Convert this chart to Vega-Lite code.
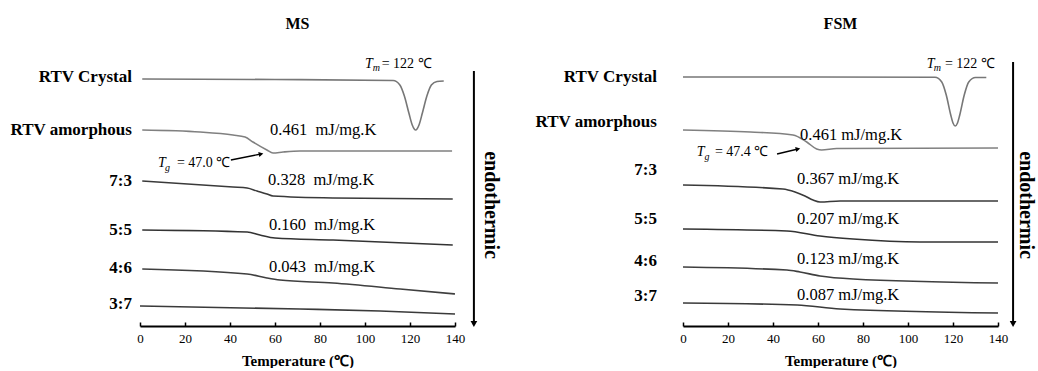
{
  "$schema": "https://vega.github.io/schema/vega-lite/v6.json",
  "padding": {"left": 10, "top": 16, "right": 0, "bottom": 0},
  "config": {"view": {"stroke": null}, "font": "Liberation Serif", "text": {"color": "black"}},
  "data": {"values": [
    {"kind":"curve","panel":"MS","s":"RTV Crystal","T":1,"hf":24.7},
    {"kind":"curve","panel":"MS","s":"RTV Crystal","T":60,"hf":24.65},
    {"kind":"curve","panel":"MS","s":"RTV Crystal","T":112.5,"hf":24.55},
    {"kind":"curve","panel":"MS","s":"RTV Crystal","T":115.5,"hf":24.1},
    {"kind":"curve","panel":"MS","s":"RTV Crystal","T":117.5,"hf":23.0},
    {"kind":"curve","panel":"MS","s":"RTV Crystal","T":119.5,"hf":21.3},
    {"kind":"curve","panel":"MS","s":"RTV Crystal","T":121,"hf":20.1},
    {"kind":"curve","panel":"MS","s":"RTV Crystal","T":122.5,"hf":19.6},
    {"kind":"curve","panel":"MS","s":"RTV Crystal","T":124,"hf":20.1},
    {"kind":"curve","panel":"MS","s":"RTV Crystal","T":125.5,"hf":21.3},
    {"kind":"curve","panel":"MS","s":"RTV Crystal","T":127.5,"hf":23.0},
    {"kind":"curve","panel":"MS","s":"RTV Crystal","T":129.5,"hf":24.1},
    {"kind":"curve","panel":"MS","s":"RTV Crystal","T":132,"hf":24.45},
    {"kind":"curve","panel":"MS","s":"RTV Crystal","T":135,"hf":24.5},
    {"kind":"curve","panel":"MS","s":"RTV amorphous","T":1,"hf":19.6},
    {"kind":"curve","panel":"MS","s":"RTV amorphous","T":26.7,"hf":19.4},
    {"kind":"curve","panel":"MS","s":"RTV amorphous","T":41.3,"hf":19.1},
    {"kind":"curve","panel":"MS","s":"RTV amorphous","T":46.7,"hf":18.9},
    {"kind":"curve","panel":"MS","s":"RTV amorphous","T":50.2,"hf":18.4},
    {"kind":"curve","panel":"MS","s":"RTV amorphous","T":56.4,"hf":17.6},
    {"kind":"curve","panel":"MS","s":"RTV amorphous","T":59.1,"hf":17.3},
    {"kind":"curve","panel":"MS","s":"RTV amorphous","T":63.6,"hf":17.4},
    {"kind":"curve","panel":"MS","s":"RTV amorphous","T":71.1,"hf":17.5},
    {"kind":"curve","panel":"MS","s":"RTV amorphous","T":138.7,"hf":17.5},
    {"kind":"curve","panel":"MS","s":"7:3","T":1,"hf":14.5},
    {"kind":"curve","panel":"MS","s":"7:3","T":41.3,"hf":13.9},
    {"kind":"curve","panel":"MS","s":"7:3","T":47.6,"hf":13.8},
    {"kind":"curve","panel":"MS","s":"7:3","T":52,"hf":13.5},
    {"kind":"curve","panel":"MS","s":"7:3","T":56.4,"hf":13.2},
    {"kind":"curve","panel":"MS","s":"7:3","T":59.1,"hf":13.0},
    {"kind":"curve","panel":"MS","s":"7:3","T":85.8,"hf":12.8},
    {"kind":"curve","panel":"MS","s":"7:3","T":139,"hf":12.7},
    {"kind":"curve","panel":"MS","s":"5:5","T":1,"hf":9.6},
    {"kind":"curve","panel":"MS","s":"5:5","T":47.6,"hf":9.4},
    {"kind":"curve","panel":"MS","s":"5:5","T":53.3,"hf":9.1},
    {"kind":"curve","panel":"MS","s":"5:5","T":60,"hf":8.8},
    {"kind":"curve","panel":"MS","s":"5:5","T":85.8,"hf":8.6},
    {"kind":"curve","panel":"MS","s":"5:5","T":139,"hf":8.1},
    {"kind":"curve","panel":"MS","s":"4:6","T":1,"hf":5.7},
    {"kind":"curve","panel":"MS","s":"4:6","T":47.6,"hf":5.2},
    {"kind":"curve","panel":"MS","s":"4:6","T":56.4,"hf":4.8},
    {"kind":"curve","panel":"MS","s":"4:6","T":62.2,"hf":4.6},
    {"kind":"curve","panel":"MS","s":"4:6","T":85.8,"hf":4.3},
    {"kind":"curve","panel":"MS","s":"4:6","T":115.6,"hf":3.7},
    {"kind":"curve","panel":"MS","s":"4:6","T":140,"hf":3.2},
    {"kind":"curve","panel":"MS","s":"3:7","T":0,"hf":2.0},
    {"kind":"curve","panel":"MS","s":"3:7","T":71,"hf":1.7},
    {"kind":"curve","panel":"MS","s":"3:7","T":106.7,"hf":1.5},
    {"kind":"curve","panel":"MS","s":"3:7","T":140,"hf":1.2},

    {"kind":"curve","panel":"FSM","s":"RTV Crystal","T":0,"hf":24.9},
    {"kind":"curve","panel":"FSM","s":"RTV Crystal","T":60,"hf":24.9},
    {"kind":"curve","panel":"FSM","s":"RTV Crystal","T":112,"hf":24.87},
    {"kind":"curve","panel":"FSM","s":"RTV Crystal","T":115,"hf":24.4},
    {"kind":"curve","panel":"FSM","s":"RTV Crystal","T":117,"hf":23.1},
    {"kind":"curve","panel":"FSM","s":"RTV Crystal","T":119,"hf":21.1},
    {"kind":"curve","panel":"FSM","s":"RTV Crystal","T":120,"hf":20.3},
    {"kind":"curve","panel":"FSM","s":"RTV Crystal","T":121,"hf":20.0},
    {"kind":"curve","panel":"FSM","s":"RTV Crystal","T":122,"hf":20.3},
    {"kind":"curve","panel":"FSM","s":"RTV Crystal","T":123,"hf":21.1},
    {"kind":"curve","panel":"FSM","s":"RTV Crystal","T":125,"hf":23.1},
    {"kind":"curve","panel":"FSM","s":"RTV Crystal","T":127,"hf":24.4},
    {"kind":"curve","panel":"FSM","s":"RTV Crystal","T":130,"hf":24.85},
    {"kind":"curve","panel":"FSM","s":"RTV Crystal","T":134.8,"hf":24.85},
    {"kind":"curve","panel":"FSM","s":"RTV amorphous","T":0,"hf":19.6},
    {"kind":"curve","panel":"FSM","s":"RTV amorphous","T":30,"hf":19.4},
    {"kind":"curve","panel":"FSM","s":"RTV amorphous","T":48.9,"hf":19.1},
    {"kind":"curve","panel":"FSM","s":"RTV amorphous","T":55,"hf":18.4},
    {"kind":"curve","panel":"FSM","s":"RTV amorphous","T":59.4,"hf":17.7},
    {"kind":"curve","panel":"FSM","s":"RTV amorphous","T":61.6,"hf":17.6},
    {"kind":"curve","panel":"FSM","s":"RTV amorphous","T":68.3,"hf":17.75},
    {"kind":"curve","panel":"FSM","s":"RTV amorphous","T":140,"hf":17.8},
    {"kind":"curve","panel":"FSM","s":"7:3","T":0,"hf":14.1},
    {"kind":"curve","panel":"FSM","s":"7:3","T":44.4,"hf":13.7},
    {"kind":"curve","panel":"FSM","s":"7:3","T":49.8,"hf":13.4},
    {"kind":"curve","panel":"FSM","s":"7:3","T":54.2,"hf":13.0},
    {"kind":"curve","panel":"FSM","s":"7:3","T":57.8,"hf":12.6},
    {"kind":"curve","panel":"FSM","s":"7:3","T":60.9,"hf":12.4},
    {"kind":"curve","panel":"FSM","s":"7:3","T":69.8,"hf":12.5},
    {"kind":"curve","panel":"FSM","s":"7:3","T":140,"hf":12.5},
    {"kind":"curve","panel":"FSM","s":"5:5","T":0,"hf":9.7},
    {"kind":"curve","panel":"FSM","s":"5:5","T":46.2,"hf":9.5},
    {"kind":"curve","panel":"FSM","s":"5:5","T":60.9,"hf":9.0},
    {"kind":"curve","panel":"FSM","s":"5:5","T":75.6,"hf":8.7},
    {"kind":"curve","panel":"FSM","s":"5:5","T":105.3,"hf":8.4},
    {"kind":"curve","panel":"FSM","s":"5:5","T":140,"hf":8.4},
    {"kind":"curve","panel":"FSM","s":"4:6","T":0,"hf":5.9},
    {"kind":"curve","panel":"FSM","s":"4:6","T":46.2,"hf":5.6},
    {"kind":"curve","panel":"FSM","s":"4:6","T":52,"hf":5.4},
    {"kind":"curve","panel":"FSM","s":"4:6","T":60.9,"hf":5.0},
    {"kind":"curve","panel":"FSM","s":"4:6","T":75.6,"hf":4.7},
    {"kind":"curve","panel":"FSM","s":"4:6","T":140,"hf":4.3},
    {"kind":"curve","panel":"FSM","s":"3:7","T":0,"hf":2.3},
    {"kind":"curve","panel":"FSM","s":"3:7","T":50.7,"hf":2.1},
    {"kind":"curve","panel":"FSM","s":"3:7","T":69.8,"hf":1.7},
    {"kind":"curve","panel":"FSM","s":"3:7","T":140,"hf":1.3},

    {"kind":"label","panel":"MS","txt":"RTV Crystal","T":-3.6,"hf":24.9},
    {"kind":"label","panel":"MS","txt":"RTV amorphous","T":-3.6,"hf":19.6},
    {"kind":"label","panel":"MS","txt":"7:3","T":-3.6,"hf":14.5},
    {"kind":"label","panel":"MS","txt":"5:5","T":-3.6,"hf":9.6},
    {"kind":"label","panel":"MS","txt":"4:6","T":-3.6,"hf":5.8},
    {"kind":"label","panel":"MS","txt":"3:7","T":-3.6,"hf":2.2},
    {"kind":"label","panel":"FSM","txt":"RTV Crystal","T":-11.6,"hf":24.9},
    {"kind":"label","panel":"FSM","txt":"RTV amorphous","T":-11.6,"hf":20.4},
    {"kind":"label","panel":"FSM","txt":"7:3","T":-11.6,"hf":15.6},
    {"kind":"label","panel":"FSM","txt":"5:5","T":-11.6,"hf":10.7},
    {"kind":"label","panel":"FSM","txt":"4:6","T":-11.6,"hf":6.5},
    {"kind":"label","panel":"FSM","txt":"3:7","T":-11.6,"hf":3.0},

    {"kind":"cp","panel":"MS","txt":"0.461\u00a0 mJ/mg.K","T":57.8,"hf":19.6},
    {"kind":"cp","panel":"MS","txt":"0.328\u00a0 mJ/mg.K","T":56.9,"hf":14.6},
    {"kind":"cp","panel":"MS","txt":"0.160\u00a0 mJ/mg.K","T":57.3,"hf":10.1},
    {"kind":"cp","panel":"MS","txt":"0.043\u00a0 mJ/mg.K","T":57.3,"hf":5.9},
    {"kind":"cp","panel":"FSM","txt":"0.461 mJ/mg.K","T":52,"hf":19.1},
    {"kind":"cp","panel":"FSM","txt":"0.367 mJ/mg.K","T":50.7,"hf":14.7},
    {"kind":"cp","panel":"FSM","txt":"0.207 mJ/mg.K","T":50.7,"hf":10.7},
    {"kind":"cp","panel":"FSM","txt":"0.123 mJ/mg.K","T":50.7,"hf":6.7},
    {"kind":"cp","panel":"FSM","txt":"0.087 mJ/mg.K","T":50.7,"hf":3.1},

    {"kind":"ital","panel":"MS","txt":"T","T":100,"hf":26.2},
    {"kind":"sub","panel":"MS","txt":"m","T":103.4,"hf":25.8},
    {"kind":"eq","panel":"MS","txt":"= 122 ℃","T":107.4,"hf":26.2},
    {"kind":"ital","panel":"FSM","txt":"T","T":108.3,"hf":26.2},
    {"kind":"sub","panel":"FSM","txt":"m","T":111.4,"hf":25.8},
    {"kind":"eq","panel":"FSM","txt":"= 122 ℃","T":116.4,"hf":26.2},
    {"kind":"ital","panel":"MS","txt":"T","T":8.0,"hf":16.3},
    {"kind":"sub","panel":"MS","txt":"g","T":11.1,"hf":15.8},
    {"kind":"eq","panel":"MS","txt":"= 47.0 ℃","T":16.4,"hf":16.3},
    {"kind":"ital","panel":"FSM","txt":"T","T":6.1,"hf":17.4},
    {"kind":"sub","panel":"FSM","txt":"g","T":9.6,"hf":16.9},
    {"kind":"eq","panel":"FSM","txt":"= 47.4 ℃","T":14.2,"hf":17.4},

    {"kind":"tgarrow","panel":"MS","T":40.4,"hf":16.6,"T2":53.8,"hf2":17.2},
    {"kind":"tgarrow","panel":"FSM","T":41.8,"hf":17.2,"T2":51.1,"hf2":17.7},

    {"kind":"varrow","panel":"MS","T":148.4,"hf":25.5,"hf2":0.2},
    {"kind":"varrow","panel":"FSM","T":146.7,"hf":26.4,"hf2":0.2},

    {"kind":"endo","panel":"MS","txt":"endothermic","T":156,"hf":12.1},
    {"kind":"endo","panel":"FSM","txt":"endothermic","T":152.6,"hf":12.1}
  ]},
  "facet": {
    "column": {
      "field": "panel", "type": "nominal", "sort": ["MS", "FSM"],
      "header": {"title": null, "labelFont": "Liberation Serif", "labelFontSize": 16, "labelFontWeight": "bold", "labelColor": "black", "labelPadding": 20}
    }
  },
  "spacing": 228,
  "bounds": "flush",
  "resolve": {"scale": {"x": "shared", "y": "shared"}},
  "spec": {
    "width": 315,
    "height": 274,
    "layer": [
      {
        "transform": [{"filter": "datum.kind === 'curve'"}],
        "mark": {"type": "line", "interpolate": "monotone", "strokeWidth": 1.6},
        "encoding": {
          "x": {"field": "T", "type": "quantitative", "scale": {"domain": [0, 140], "nice": false, "zero": false},
            "axis": {"title": "Temperature (℃)", "titleFont": "Liberation Serif", "titleFontSize": 15, "titleFontWeight": "bold", "titleColor": "black", "titlePadding": 8,
              "labelFont": "Liberation Serif", "labelFontSize": 13, "labelColor": "black", "labelPadding": 10, "labelFlush": false,
              "values": [0, 20, 40, 60, 80, 100, 120, 140], "tickSize": -4, "tickColor": "black", "tickWidth": 1.5,
              "domainColor": "black", "domainWidth": 2, "grid": false}},
          "y": {"field": "hf", "type": "quantitative", "scale": {"domain": [0, 27.4], "nice": false, "zero": false}, "axis": null},
          "color": {"field": "s", "type": "nominal", "legend": null,
            "scale": {"domain": ["RTV Crystal", "RTV amorphous", "7:3", "5:5", "4:6", "3:7"], "range": ["#777777", "#808080", "#3a3a3a", "#333333", "#3f3f3f", "#3a3a3a"]}}
        }
      },
      {
        "transform": [{"filter": "datum.kind === 'label'"}],
        "mark": {"type": "text", "align": "right", "baseline": "middle", "fontSize": 17, "fontWeight": "bold", "font": "Liberation Serif"},
        "encoding": {"x": {"field": "T", "type": "quantitative"}, "y": {"field": "hf", "type": "quantitative"}, "text": {"field": "txt"}}
      },
      {
        "transform": [{"filter": "datum.kind === 'cp'"}],
        "mark": {"type": "text", "align": "left", "baseline": "middle", "fontSize": 16.5, "font": "Liberation Serif"},
        "encoding": {"x": {"field": "T", "type": "quantitative"}, "y": {"field": "hf", "type": "quantitative"}, "text": {"field": "txt"}}
      },
      {
        "transform": [{"filter": "datum.kind === 'ital'"}],
        "mark": {"type": "text", "align": "left", "baseline": "middle", "fontSize": 14, "fontStyle": "italic", "font": "Liberation Serif"},
        "encoding": {"x": {"field": "T", "type": "quantitative"}, "y": {"field": "hf", "type": "quantitative"}, "text": {"field": "txt"}}
      },
      {
        "transform": [{"filter": "datum.kind === 'sub'"}],
        "mark": {"type": "text", "align": "left", "baseline": "middle", "fontSize": 10, "fontStyle": "italic", "font": "Liberation Serif"},
        "encoding": {"x": {"field": "T", "type": "quantitative"}, "y": {"field": "hf", "type": "quantitative"}, "text": {"field": "txt"}}
      },
      {
        "transform": [{"filter": "datum.kind === 'eq'"}],
        "mark": {"type": "text", "align": "left", "baseline": "middle", "fontSize": 14, "font": "Liberation Serif"},
        "encoding": {"x": {"field": "T", "type": "quantitative"}, "y": {"field": "hf", "type": "quantitative"}, "text": {"field": "txt"}}
      },
      {
        "transform": [{"filter": "datum.kind === 'tgarrow'"}],
        "mark": {"type": "rule", "color": "black", "strokeWidth": 1.3},
        "encoding": {"x": {"field": "T", "type": "quantitative"}, "x2": {"field": "T2"}, "y": {"field": "hf", "type": "quantitative"}, "y2": {"field": "hf2"}}
      },
      {
        "transform": [{"filter": "datum.kind === 'tgarrow'"}],
        "mark": {"type": "point", "shape": "triangle-right", "filled": true, "color": "black", "size": 28, "opacity": 1, "angle": 348},
        "encoding": {"x": {"field": "T2", "type": "quantitative"}, "y": {"field": "hf2", "type": "quantitative"}}
      },
      {
        "transform": [{"filter": "datum.kind === 'varrow'"}],
        "mark": {"type": "rule", "color": "black", "strokeWidth": 2},
        "encoding": {"x": {"field": "T", "type": "quantitative"}, "y": {"field": "hf", "type": "quantitative"}, "y2": {"field": "hf2"}}
      },
      {
        "transform": [{"filter": "datum.kind === 'varrow'"}],
        "mark": {"type": "point", "shape": "triangle-down", "filled": true, "color": "black", "size": 45, "opacity": 1},
        "encoding": {"x": {"field": "T", "type": "quantitative"}, "y": {"field": "hf2", "type": "quantitative"}}
      },
      {
        "transform": [{"filter": "datum.kind === 'endo'"}],
        "mark": {"type": "text", "align": "center", "baseline": "middle", "fontSize": 20, "fontWeight": "bold", "angle": 90, "font": "Liberation Serif"},
        "encoding": {"x": {"field": "T", "type": "quantitative"}, "y": {"field": "hf", "type": "quantitative"}, "text": {"field": "txt"}}
      }
    ]
  }
}
